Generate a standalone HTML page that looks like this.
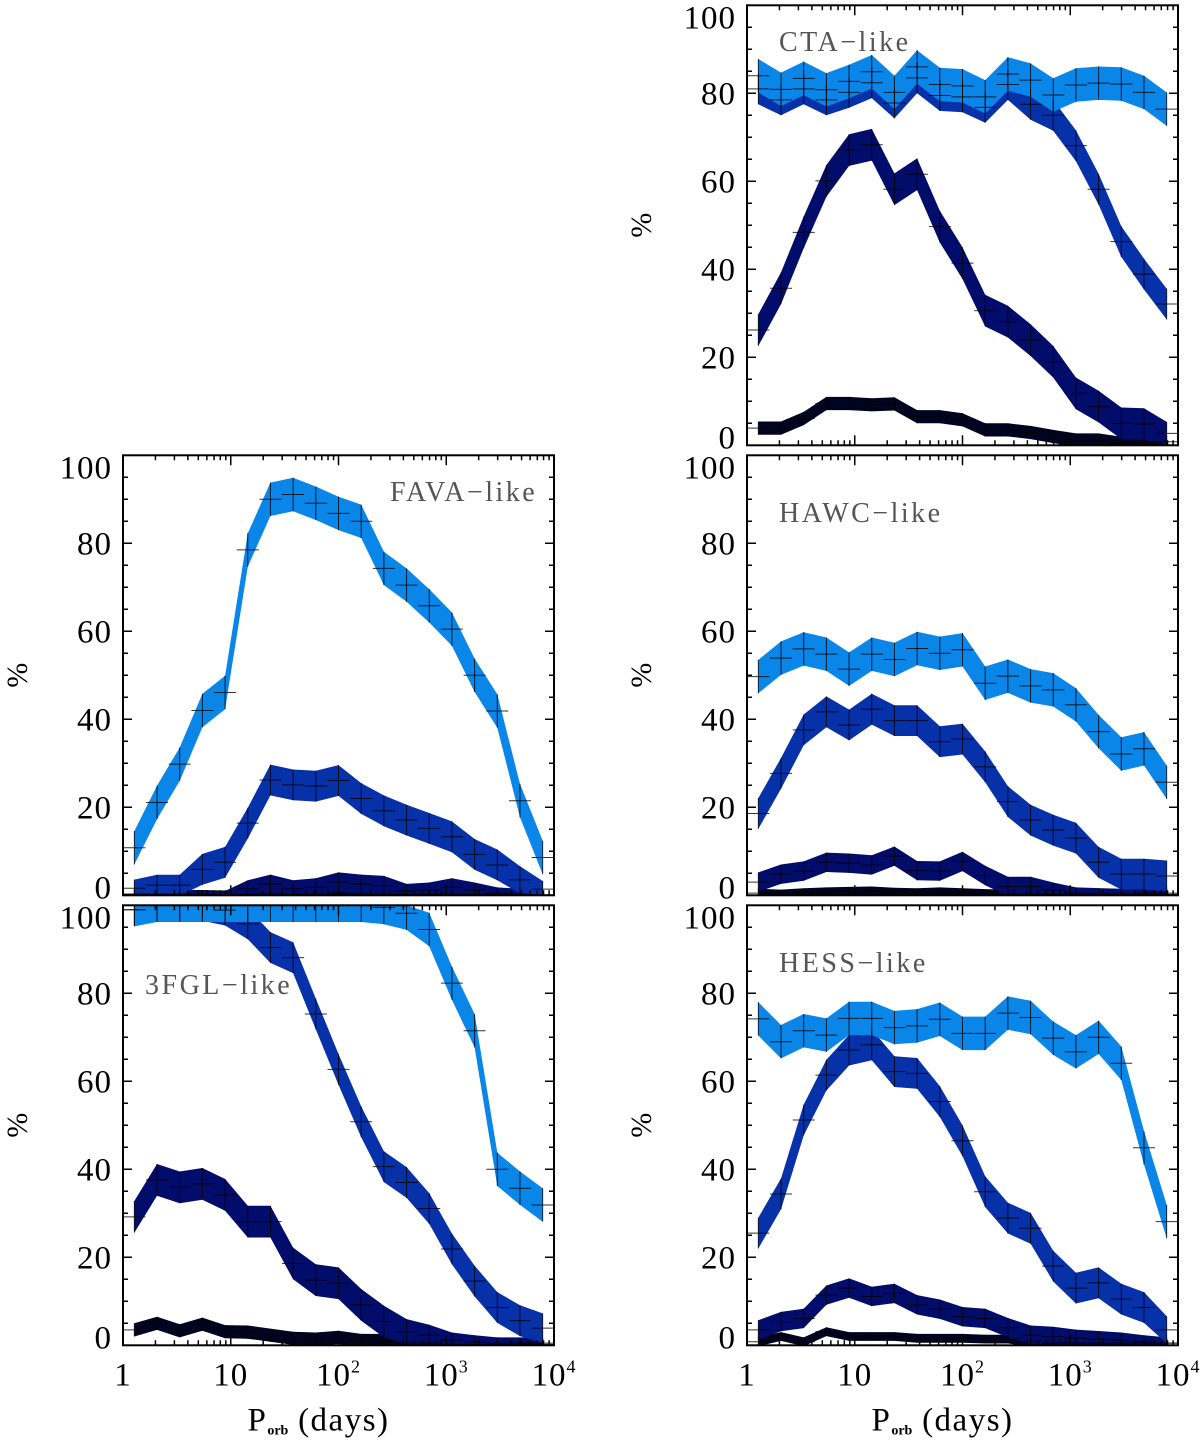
<!DOCTYPE html>
<html><head><meta charset="utf-8"><style>
html,body{margin:0;padding:0;background:#fff}
svg text{font-family:"Liberation Serif",serif}
</style></head><body>
<svg id="fig" width="1200" height="1442" viewBox="0 0 1200 1442" xmlns="http://www.w3.org/2000/svg"></svg>
<script>
// Bin centers: log10(P) = (k+0.5)*4/19, k=0..18
const nBins = 19;
const xTickLabels = ["1","10","10","10","10"];
const xTickSup = ["","","2","3","4"];
const yTickLabels = ["0","20","40","60","80","100"];
const yTickValues = [0,20,40,60,80,100];

// CTA-like
const ctaLight = [84,80.9,83.4,80.8,82.7,84.9,80.2,86,82,81.7,79.2,84.4,83,79.6,81.9,82.3,82.1,80.2,76.4];
const ctaMid = [81,78.5,81,78.5,80.2,82.4,77.8,83.5,79.5,79.2,76.8,82,77.5,75,68.1,58.2,46.3,38.9,32.1];
const ctaNavy = [26.2,35.7,48.4,60.1,67.1,68.3,58.2,61.6,49.7,41.4,30.6,28.1,23.9,19,11.8,8.8,5,4.8,2.7];
const ctaBlack = [3.9,3.9,6.1,9.5,9.5,9.2,9.4,6.5,6.5,5.8,3.5,3.5,2.9,2,1.2,1.2,0.6,0.6,0.8];
// FAVA-like
const favaLight = [10.8,21.1,29.8,42,46.1,78.5,90,91.1,89.1,86.8,85,74.3,70.5,65.8,60.5,50,41.9,21.5,8.6];
const favaMid = [1.6,2.3,2.3,5.9,7.5,16.4,26.2,25.1,24.8,26.1,22,19.2,17.1,15.2,13.3,9.3,6.9,3.5,1.4];
const favaNavy = [0.3,0.3,0.3,0,0,1.5,2.5,1.5,1.8,3,2.5,2.2,1,1.2,1.8,1.2,0.5,0.3,0.1];
const favaBlack = [0.2,0.2,0.2,0.2,0.1,0.2,0.3,0.2,0.2,0.4,0.3,0.2,0.2,0.2,0.2,0.2,0.2,0.1,0.1];
// HAWC-like
const hawcLight = [49.7,53.9,56,54.8,51.4,54.8,53.6,56.1,55,55.8,48.2,49.8,47.6,46.7,43.3,37.2,32.1,33.3,25.7];
const hawcMid = [18.6,27.7,37.6,41.7,38.7,42.3,39.7,39.7,34.9,35.5,29.2,21.3,17.1,14.8,13,7.5,4.8,4.8,4.4];
const hawcNavy = [3,4.8,5.5,7.5,7.3,6.9,8.9,5.6,5.5,7.7,4.5,2,2,1.2,0.5,0.4,0.3,0.5,0.5];
const hawcBlack = [0.5,0.3,0.6,0.8,0.9,1,0.7,0.6,0.8,0.6,0.4,0.3,0.3,0.2,0.2,0.2,0.2,0.2,0.2];
// 3FGL-like
const fglLight = [99,100,100,100,100,100,100,100,100,100,100,99.5,98.2,94.5,82.3,71.5,40,35.7,31.9];
const fglMid = [99,100,100,100,98.9,95.8,90.4,88.1,75.3,62.7,50.8,40.6,37,31.1,21.9,14.6,8.6,5.6,3.9];
const fglNavy = [29.2,37.6,35.9,36.7,34.2,28.1,28.1,18.6,14.8,14.1,9.2,5.4,3.1,2.3,1.2,0.8,0.5,0.5,0.5];
const fglBlack = [3.5,5,3.3,4.8,3.1,3,2.3,1.6,1.4,1.8,1.1,1.1,0.5,0.5,0.2,0.2,0.2,0.2,0.2];
// HESS-like
const hessLight = [74.2,69,71.5,70.5,74.3,74.3,72.2,72.6,74.1,70.9,70.9,75.5,74.5,69.8,66.7,70,64.1,44.9,28.1];
const hessMid = [25.5,34.4,51.2,61.4,67.1,68.3,62.2,61.8,55.4,46.5,34.9,28.9,26.6,18,13,14.2,10.5,8.6,3.5];
const hessNavy = [3.5,5.4,6.1,11.4,13,11.1,11.8,9.2,8.2,6.5,6.1,4,2.3,2,1.6,1.4,1.2,0.8,0.5];
const hessBlack = [0.8,2,0.8,3.1,2,2,2,1.6,1.6,1.6,1.4,1.4,0.8,0.5,0.5,0.5,0.5,0.5,0.5];

const NS = "http://www.w3.org/2000/svg";
const svg = document.getElementById('fig');
function mk(tag, attrs, parent){
  const e = document.createElementNS(NS, tag);
  for (const k in attrs) e.setAttribute(k, attrs[k]);
  (parent||svg).appendChild(e);
  return e;
}
const PW = 431, PH = 440;
const colors = {light:"#0a86e8", mid:"#0631a8", navy:"#020c6a", black:"#000420"};

function drawPanel(id, x0, y0, name, nameX, nameY, series, hws, showX, yTitle){
  const g = mk('g', {});
  
  
  const xs = v => x0 + (v/4)*PW;
  const ys = v => y0 + PH - (v/100)*PH;
  const clip = mk('clipPath', {id:'clip-'+id}, g);
  mk('rect', {x:x0, y:y0, width:PW, height:PH}, clip);
  const plot = mk('g', {'clip-path':'url(#clip-'+id+')'}, g);
  const order = ['black','navy','mid','light'];
  order.forEach(key => {
    const vals = series[key];
    let up = [], lo = [];
    for (let k=0;k<vals.length;k++){
      const hw = Math.min(hws[key], 1 + vals[k]*0.6);
      const lx = (k+0.5)*4/nBins;
      up.push(xs(lx).toFixed(1)+','+ys(Math.min(100,vals[k]+hw)).toFixed(1));
      lo.unshift(xs(lx).toFixed(1)+','+ys(Math.max(-1,vals[k]-hw)).toFixed(1));
    }
    const band = mk('polygon', {points: up.concat(lo).join(' '), fill: colors[key]}, plot);
    
    
  });
  order.forEach(key => {
    const vals = series[key];
    for (let k=0;k<vals.length;k++){
      const hw = Math.min(hws[key], 1 + vals[k]*0.6);
      const cx = xs((k+0.5)*4/nBins), cy = ys(vals[k]);
      const cr = mk('path', {d:`M${cx-11},${cy}H${cx+11}M${cx},${ys(vals[k]+hw)}V${ys(vals[k]-hw)}`, stroke:"#000", 'stroke-width':1, fill:"none", opacity:0.8}, plot);
      
      
    }
  });
  const fr = mk('rect', {x:x0, y:y0, width:PW, height:PH, fill:"none", stroke:"#000", 'stroke-width':2}, g);
  
  
  let d = "";
  for (let dec=0; dec<4; dec++){
    for (let m=1; m<10; m++){
      const lx = dec + Math.log10(m);
      const X = xs(lx), L = (m===1)?10:5;
      if (m===1 && dec===0) continue;
      d += `M${X},${y0+PH}V${y0+PH-L}M${X},${y0}V${y0+L}`;
    }
  }
  for (let v=5; v<100; v+=5){
    const Y = ys(v), L = (v%20===0)?9:5;
    d += `M${x0},${Y}H${x0+L}M${x0+PW},${Y}H${x0+PW-L}`;
  }
  const tk = mk('path', {d, stroke:"#000", 'stroke-width':1.5, fill:"none"}, g);
  
  
  yTickValues.forEach((v,i) => {
    let cy = Math.max(y0+12, Math.min(y0+PH-8, ys(v)));
    const t = mk('text', {x:x0-11, y:cy+11, 'text-anchor':'end', 'font-size':33, 'letter-spacing':1, fill:"#000"}, g);
    t.textContent = yTickLabels[i];
    
    
  });
  const yt = mk('text', {x:0, y:0, 'font-size':30, 'text-anchor':'middle', transform:`translate(${x0-96},${y0+PH/2}) rotate(-90)`, fill:"#000"}, g);
  yt.textContent = yTitle;
  
  
  if (showX){
    for (let i=0;i<5;i++){
      const t = mk('text', {x:xs(i), y:y0+PH+40, 'text-anchor':'middle', 'font-size':33, 'letter-spacing':1, fill:"#000"}, g);
      t.textContent = xTickLabels[i];
      if (xTickSup[i]){
        const s = mk('tspan', {dy:-13, 'font-size':18}, t);
        s.textContent = xTickSup[i];
      }
      
      
    }
    const xt = mk('text', {x:x0+PW/2-20, y:y0+PH+85, 'text-anchor':'middle', 'font-size':33, 'letter-spacing':1.5, fill:"#000"}, g);
    xt.textContent = "P";
    const sub = mk('tspan', {'font-size':14, 'font-weight':'bold', dy:4, 'letter-spacing':0}, xt);
    sub.textContent = "orb";
    const rest = mk('tspan', {dy:-4}, xt);
    rest.textContent = " (days)";
    
    
  }
  const nm = mk('text', {x:nameX, y:nameY, 'font-size':28, 'letter-spacing':2.5, fill:"#555"}, g);
  nm.textContent = name;
  
  
}

const wideNavy = {light:3.8, mid:3.5, navy:3.6, black:1.5};
const thinNavy = {light:3.8, mid:3.5, navy:2.2, black:1.0};
drawPanel('cta', 747, 5.3, 'CTA\u2212like', 779, 51, {light:ctaLight, mid:ctaMid, navy:ctaNavy, black:ctaBlack}, wideNavy, false, '%');
drawPanel('fava', 123, 455.3, 'FAVA\u2212like', 390, 501, {light:favaLight, mid:favaMid, navy:favaNavy, black:favaBlack}, thinNavy, false, '%');
drawPanel('hawc', 747, 455.3, 'HAWC\u2212like', 779, 522, {light:hawcLight, mid:hawcMid, navy:hawcNavy, black:hawcBlack}, thinNavy, false, '%');
drawPanel('fgl', 123, 905.3, '3FGL\u2212like', 145, 994, {light:fglLight, mid:fglMid, navy:fglNavy, black:fglBlack}, wideNavy, true, '%');
drawPanel('hess', 747, 905.3, 'HESS\u2212like', 779, 972, {light:hessLight, mid:hessMid, navy:hessNavy, black:hessBlack}, thinNavy, true, '%');
</script>
</body></html>
